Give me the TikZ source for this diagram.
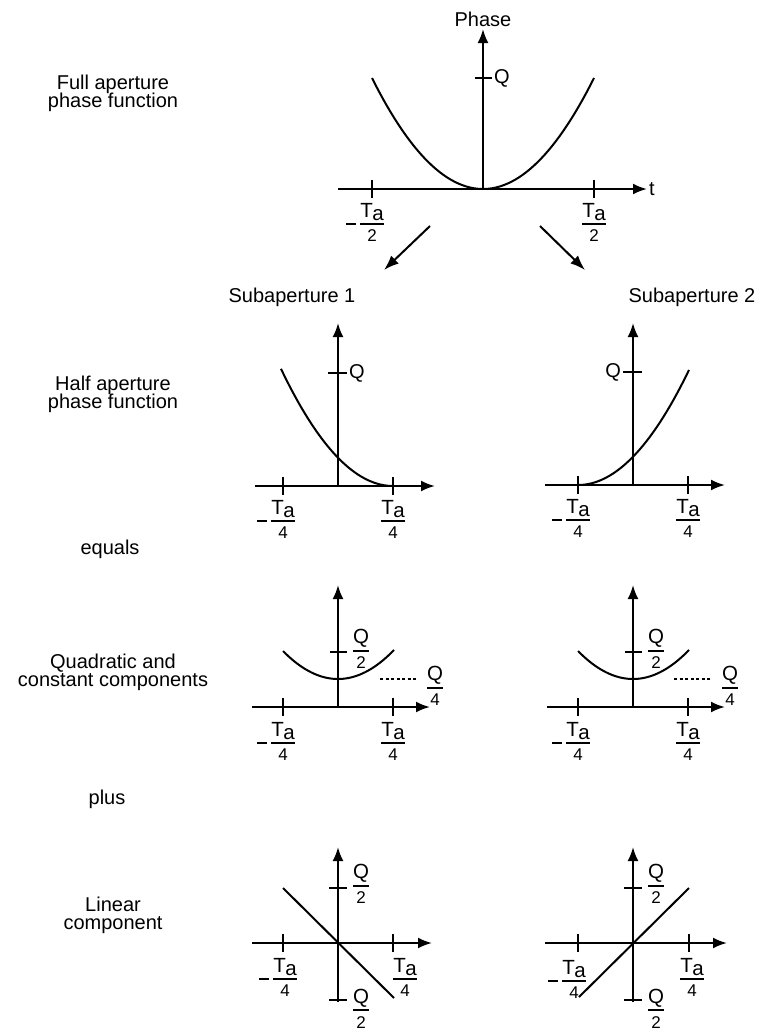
\documentclass[tikz,border=0pt]{standalone}
\usepackage{fontspec}
\setmainfont{Liberation Sans}
\usetikzlibrary{arrows.meta}

\newcommand{\Ta}{T\kern-.5pt\raisebox{-.3ex}{a}}
\newcommand{\frcbody}[3]{\vbox{\offinterlineskip\halign{\hfil##\hfil\cr#2\cr
  \noalign{\kern2pt#1\hrule height1.8pt\kern5pt}
  \fontsize{17}{17}\selectfont#3\cr}}}
\newcommand{\frc}[2]{\frcbody{}{#1}{#2}}
\newcommand{\mfrc}[2]{\frcbody{\moveleft14pt\hbox{\vrule width10pt height1.8pt}\kern-1.8pt}{#1}{#2}}
\newcommand{\rowfont}{\fontsize{20}{18}\selectfont\lineskiplimit-10pt\relax}

\begin{document}
\begin{tikzpicture}[
    x=1pt, y=-1pt,
    every node/.style={inner sep=1pt},
    txt/.style={font=\rowfont, align=center},
    lbl/.style={font=\fontsize{20}{20}\selectfont},
    frac/.style={font=\fontsize{20.5}{20.5}\selectfont, inner sep=0pt},
    axis/.style={-{Latex[length=14pt,width=11pt]}, line width=2.2pt},
    tick/.style={line width=2pt},
    curve/.style={line width=2pt},
    flow/.style={-{Latex[length=15pt,width=11pt]}, line width=2pt},
    level/.style={line width=1.8pt, dash pattern=on 3pt off 2.5pt}
]
\useasboundingbox (0,0) rectangle (761,1031);

% row labels
\node[txt] (full) at (113,93) {Full aperture\\phase function};
\node[txt] (half) at (113,394) {Half aperture\\phase function};
\node[txt] (equals) at (110,549) {equals};
\node[txt] (quad) at (113,672) {Quadratic and\\constant components};
\node[txt] (plus) at (107,799) {plus};
\node[txt] (lin) at (113,915) {Linear\\component};

% full aperture
\begin{scope}[shift={(483,189)}, yscale=-1]
  \draw[axis] (-145,0) -- (164,0) node[lbl, right] (t) {t};
  \draw[axis] (0,0) -- (0,160) node[lbl, above] (phase) {Phase};
  \foreach \x in {-111,111} \draw[tick] (\x,-9) -- (\x,9);
  \draw[tick] (-8,111) -- (9,111) node[lbl, right] (q0) {Q};
  \draw[curve] plot[domain=-111:111, samples=60] (\x, {111*(\x/111)*(\x/111)});
  \node[frac, anchor=north] (tl0) at (-111,-14) {\mfrc{\Ta}{2}};
  \node[frac, anchor=north] (tr0) at (111,-14) {\frc{\Ta}{2}};
\end{scope}

\coordinate (from1) at (430,226);
\coordinate (to1) at (384,270);
\coordinate (from2) at (540,226);
\coordinate (to2) at (585,270);
\draw[flow] (from1) -- (to1);
\draw[flow] (from2) -- (to2);

\node[txt] (sub1) at (292,297) {Subaperture 1};
\node[txt] (sub2) at (692,297) {Subaperture 2};

% half aperture
\begin{scope}[shift={(338,486)}, yscale=-1]
  \draw[axis] (-83,0) -- (97,0);
  \draw[axis] (0,0) -- (0,163);
  \foreach \x in {-55,55} \draw[tick] (\x,-9) -- (\x,9);
  \draw[tick] (-10,113) -- (9,113) node[lbl, right] (q1) {Q};
  \draw[curve] plot[domain=-57:55, samples=40] (\x, {113*((\x-55)/110)*((\x-55)/110)});
  \node[frac, anchor=north] (tl1) at (-55,-14) {\mfrc{\Ta}{4}};
  \node[frac, anchor=north] (tr1) at (55,-14) {\frc{\Ta}{4}};
\end{scope}
\begin{scope}[shift={(633,485)}, yscale=-1]
  \draw[axis] (-88,0) -- (92,0);
  \draw[axis] (0,0) -- (0,162);
  \foreach \x in {-55,55} \draw[tick] (\x,-9) -- (\x,9);
  \draw[tick] (9,113) -- (-10,113) node[lbl, left] (q2) {Q};
  \draw[curve] plot[domain=-55:56, samples=40] (\x, {113*((\x+55)/110)*((\x+55)/110)});
  \node[frac, anchor=north] (tl2) at (-55,-14) {\mfrc{\Ta}{4}};
  \node[frac, anchor=north] (tr2) at (55,-14) {\frc{\Ta}{4}};
\end{scope}

% quadratic and constant
\foreach \ox/\dl/\dr in {338/42/79, 633/41/79} {
\begin{scope}[shift={(\ox,707)}, yscale=-1]
  \draw[axis] (-86,0) -- (92,0);
  \draw[axis] (0,0) -- (0,122);
  \foreach \x in {-55,55} \draw[tick] (\x,-9) -- (\x,9);
  \draw[tick] (-8,55) -- (9,55);
  \node[frac, anchor=west] (qh\ox) at (15,58) {\frc{Q}{2}};
  \draw[curve] plot[domain=-55:56, samples=40] (\x, {28+28*(\x/55)*(\x/55)});
  \draw[level] (\dl,28) -- (\dr,28);
  \node[frac, anchor=west] (qq\ox) at (89,21) {\frc{Q}{4}};
  \node[frac, anchor=north] (tl\ox) at (-55,-15) {\mfrc{\Ta}{4}};
  \node[frac, anchor=north] (tr\ox) at (55,-15) {\frc{\Ta}{4}};
\end{scope}
}

% linear
\begin{scope}[shift={(338,943)}, yscale=-1]
  \draw[axis] (-86,0) -- (94,0);
  \draw[axis] (0,-59) -- (0,96);
  \foreach \x in {-55,55} \draw[tick] (\x,-9) -- (\x,9);
  \foreach \y in {-57,55} \draw[tick] (-9,\y) -- (9,\y);
  \draw[curve] (-55,55) -- (56,-55);
  \node[frac, anchor=west] (qt3) at (15,59) {\frc{Q}{2}};
  \node[frac, anchor=north west] (qb3) at (15,-46) {\frc{Q}{2}};
  \node[frac, anchor=north] (tl3) at (-53,-15) {\mfrc{\Ta}{4}};
  \node[frac, anchor=north] (tr3) at (67,-15) {\frc{\Ta}{4}};
\end{scope}
\begin{scope}[shift={(633,943)}, yscale=-1]
  \draw[axis] (-88,0) -- (94,0);
  \draw[axis] (0,-59) -- (0,96);
  \foreach \x in {-55,56} \draw[tick] (\x,-9) -- (\x,9);
  \foreach \y in {-57,55} \draw[tick] (-9,\y) -- (9,\y);
  \draw[curve] (-54,-54) -- (56,55);
  \node[frac, anchor=west] (qt4) at (15,59) {\frc{Q}{2}};
  \node[frac, anchor=north west] (qb4) at (15,-46) {\frc{Q}{2}};
  \node[frac, anchor=north] (tl4) at (-59,-17) {\mfrc{\Ta}{4}};
  \node[frac, anchor=north] (tr4) at (59,-15) {\frc{\Ta}{4}};
\end{scope}
\end{tikzpicture}
\end{document}
